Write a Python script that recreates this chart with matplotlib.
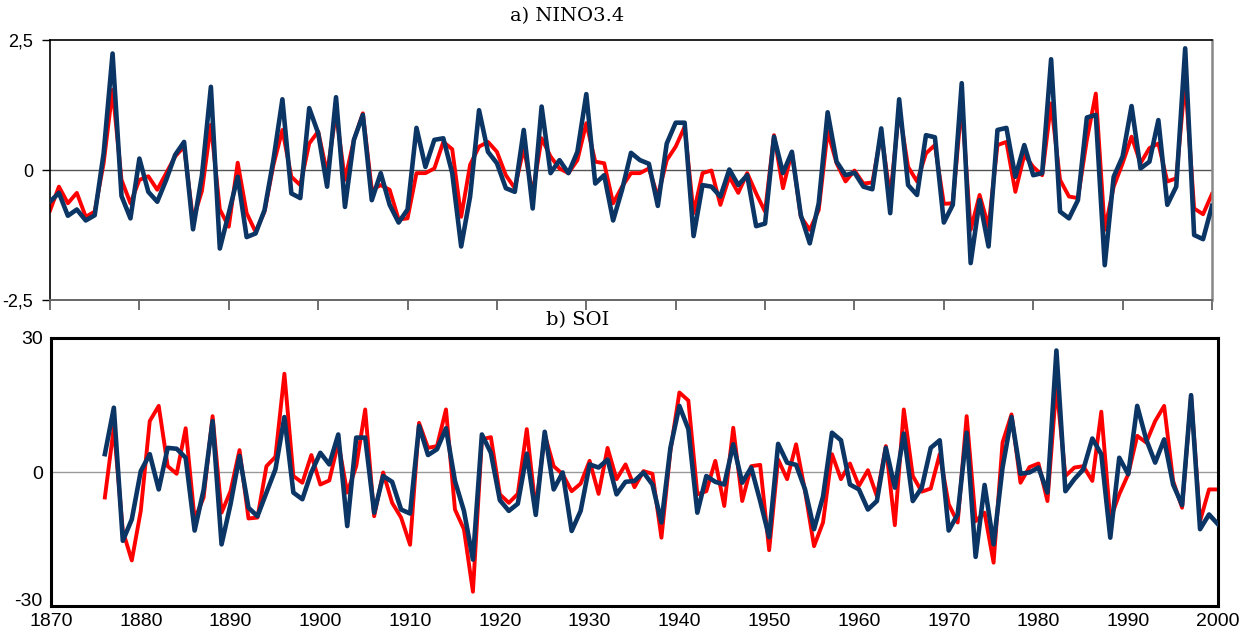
import numpy as np
import matplotlib
matplotlib.use("Agg")
import matplotlib.pyplot as plt

# years
years_nino = list(range(1870, 2001))
years_soi = list(range(1876, 2001))

# NINO3.4 (red = observed, navy = reconstruction)
nino_red = [
    -0.78, -0.32, -0.64, -0.44, -0.90, -0.80, 0.13, 1.54, -0.19, -0.64,
    -0.19, -0.12, -0.38, -0.06, 0.26, 0.45, -0.96, -0.40, 0.87, -0.76,
    -1.09, 0.14, -0.83, -1.19, -0.80, 0.10, 0.77, -0.13, -0.29, 0.51,
    0.74, -0.06, 1.10, -0.19, 0.58, 1.09, -0.38, -0.29, -0.38, -0.95,
    -0.93, -0.06, -0.06, 0.03, 0.54, 0.40, -0.90, 0.10, 0.45, 0.54,
    0.35, -0.10, -0.35, 0.42, -0.45, 0.61, 0.26, 0.03, -0.06, 0.19,
    0.90, 0.16, 0.13, -0.64, -0.32, -0.06, -0.06, 0.03, -0.51, 0.19,
    0.45, 0.83, -0.83, -0.06, -0.01, -0.67, -0.13, -0.44, -0.06, -0.45,
    -0.80, 0.67, -0.35, 0.35, -0.90, -1.15, -0.77, 0.74, 0.13, -0.22,
    -0.01, -0.26, -0.24, 0.71, -0.51, 1.15, 0.06, -0.22, 0.32, 0.48,
    -0.65, -0.64, 1.28, -1.15, -0.48, -1.09, 0.48, 0.54, -0.42, 0.29,
    0.06, -0.10, 1.28, -0.19, -0.51, -0.54, 0.58, 1.47, -1.15, -0.32,
    0.13, 0.64, 0.13, 0.42, 0.51, -0.22, -0.16, 1.73, -0.74, -0.85,
    -0.46,
]
nino_blue = [
    -0.61, -0.44, -0.88, -0.76, -0.97, -0.87, 0.32, 2.24, -0.50, -0.93,
    0.22, -0.42, -0.61, -0.19, 0.29, 0.54, -1.14, -0.10, 1.60, -1.51,
    -0.83, -0.13, -1.29, -1.22, -0.77, 0.20, 1.36, -0.45, -0.54, 1.19,
    0.71, -0.32, 1.40, -0.71, 0.58, 1.06, -0.58, -0.06, -0.67, -1.01,
    -0.76, 0.81, 0.06, 0.58, 0.61, -0.06, -1.47, -0.51, 1.15, 0.35,
    0.13, -0.35, -0.42, 0.77, -0.74, 1.22, -0.06, 0.19, -0.06, 0.35,
    1.46, -0.26, -0.10, -0.97, -0.38, 0.33, 0.19, 0.12, -0.69, 0.51,
    0.91, 0.91, -1.27, -0.29, -0.32, -0.51, 0.01, -0.29, -0.10, -1.08,
    -1.03, 0.64, -0.06, 0.35, -0.87, -1.41, -0.64, 1.11, 0.16, -0.10,
    -0.05, -0.32, -0.37, 0.80, -0.83, 1.36, -0.29, -0.48, 0.67, 0.63,
    -1.01, -0.67, 1.67, -1.79, -0.58, -1.47, 0.77, 0.81, -0.13, 0.48,
    -0.10, -0.06, 2.13, -0.80, -0.93, -0.58, 1.01, 1.06, -1.83, -0.13,
    0.26, 1.23, 0.03, 0.16, 0.96, -0.67, -0.32, 2.34, -1.25, -1.33,
    -0.69,
]

# SOI
soi_red = [
    -5.7, 10.0, -13.2, -19.8, -8.7, 11.4, 14.8, 1.3, -0.4, 9.8,
    -10.6, -5.7, 12.5, -9.1, -4.3, 4.9, -10.4, -10.2, 1.3, 3.4,
    22.0, -0.9, -2.4, 3.8, -2.8, -1.9, 6.6, -4.6, 1.3, 14.0,
    -9.9, -0.1, -6.9, -10.2, -16.3, 11.0, 5.4, 5.8, 14.0, -8.4,
    -12.8, -26.8, 7.3, 7.8, -5.0, -6.9, -4.9, 9.6, -8.4, 8.4,
    1.3, -0.5, -4.3, -2.6, 2.5, -4.9, 5.4, -1.6, 1.7, -3.4,
    0.2, -0.4, -14.7, 4.7, 17.8, 16.0, -5.0, -4.3, 2.5, -7.6,
    9.9, -6.5, 1.3, 1.6, -17.5, 2.8, -1.6, 6.2, -4.3, -16.6,
    -11.3, 4.0, -1.6, 1.9, -3.1, 0.4, -5.4, 5.8, -11.9, 14.0,
    -0.9, -4.4, -3.7, 4.0, -7.2, -11.3, 12.5, -11.0, -9.1, -20.3,
    6.6, 12.9, -2.4, 1.1, 1.9, -6.5, 19.3, -0.9, 1.0, 1.3,
    -2.0, 13.5, -10.6, -5.0, -0.5, 8.1, 6.6, 11.4, 14.8, -2.0,
    -8.0, 17.2, -11.0, -3.9, -3.9,
]
soi_blue = [
    4.0, 14.4, -15.4, -10.6, 0.2, 4.0, -3.9, 5.4, 5.2, 3.2,
    -13.1, -4.0, 11.4, -16.2, -7.2, 3.6, -8.0, -9.9, -4.6, 0.6,
    12.3, -4.6, -6.1, -0.1, 4.3, 1.7, 8.4, -12.1, 7.7, 7.7,
    -9.1, -0.9, -2.2, -8.4, -9.3, 10.3, 3.8, 5.1, 9.8, -2.0,
    -8.7, -19.6, 8.4, 4.3, -6.3, -8.7, -7.1, 4.1, -9.6, 9.0,
    -3.9, -0.1, -13.2, -8.7, 1.7, 1.0, 2.8, -5.0, -2.2, -2.0,
    -0.1, -2.8, -11.3, 5.4, 14.8, 9.6, -9.1, -0.9, -2.2, -2.8,
    6.2, -2.4, 1.0, -6.5, -14.6, 6.3, 2.1, 1.6, -3.9, -12.8,
    -5.5, 8.8, 7.1, -2.8, -3.9, -8.4, -6.5, 5.4, -3.5, 8.6,
    -6.5, -3.5, 5.4, 7.1, -13.1, -9.5, 8.8, -19.0, -2.9, -16.2,
    1.0, 12.3, -0.4, -0.1, 1.0, -4.6, 27.2, -4.3, -1.6, 0.6,
    7.5, 4.0, -14.7, 3.2, -0.5, 14.8, 7.3, 2.1, 7.3, -2.8,
    -7.4, 17.2, -12.8, -9.5, -11.7,
]

decades = list(range(1870, 2001, 10))

RED = "#ff0000"
NAVY = "#0b3565"

fig = plt.figure(figsize=(12.5, 6.32), dpi=100)

# ---- a) NINO3.4
ax1 = fig.add_axes([0.040, 0.5253, 0.9296, 0.4114])
ax1.axhline(0, color="#555555", lw=1.0, zorder=1)
ax1.plot(years_nino, nino_red, color=RED, lw=2.8, zorder=2)
ax1.plot(years_nino, nino_blue, color=NAVY, lw=3.3, zorder=3)
ax1.set_xlim(1870, 2000)
ax1.set_ylim(-2.5, 2.5)
ax1.set_yticks([-2.5, 0, 2.5])
ax1.set_yticklabels(["-2,5", "0", "2,5"], family="Liberation Sans", fontsize=13)
ax1.set_xticks(decades)
ax1.set_xticklabels([])
ax1.tick_params(axis="x", direction="out", length=7, width=1.2, color="#555555")
ax1.tick_params(axis="y", direction="out", length=6, width=1.0, pad=6)
for s in ["left", "top"]:
    ax1.spines[s].set_color("black")
    ax1.spines[s].set_linewidth(1.2)
ax1.spines["right"].set_color("#888888")
ax1.spines["right"].set_linewidth(1.8)
ax1.spines["bottom"].set_color("#666666")
ax1.spines["bottom"].set_linewidth(1.4)
fig.text(0.454, 0.975, "a) NINO3.4", family="DejaVu Serif", fontsize=14,
         ha="center", va="center")

# ---- b) SOI
ax2 = fig.add_axes([0.0408, 0.0411, 0.9336, 0.4241])
ax2.axhline(0, color="#999999", lw=1.0, zorder=1)
ax2.plot(years_soi, soi_red, color=RED, lw=2.8, zorder=2)
ax2.plot(years_soi, soi_blue, color=NAVY, lw=3.3, zorder=3)
ax2.set_xlim(1870, 2000)
ax2.set_ylim(-30, 30)
ax2.set_yticks([-30, 0, 30])
ylabs = ax2.set_yticklabels(["-30", "0", "30"])
ylabs[0].set_verticalalignment("baseline")
ax2.set_xticks(decades)
ax2.tick_params(axis="both", length=0, labelsize=14, pad=6)
ax2.tick_params(axis="x", pad=5)
for lab in ax2.get_xticklabels() + ax2.get_yticklabels():
    lab.set_family("Liberation Sans")
for s in ax2.spines.values():
    s.set_color("black")
    s.set_linewidth(2.2)
fig.text(0.462, 0.493, "b) SOI", family="DejaVu Serif", fontsize=14,
         ha="center", va="center")

fig.savefig("out.png", dpi=100)
